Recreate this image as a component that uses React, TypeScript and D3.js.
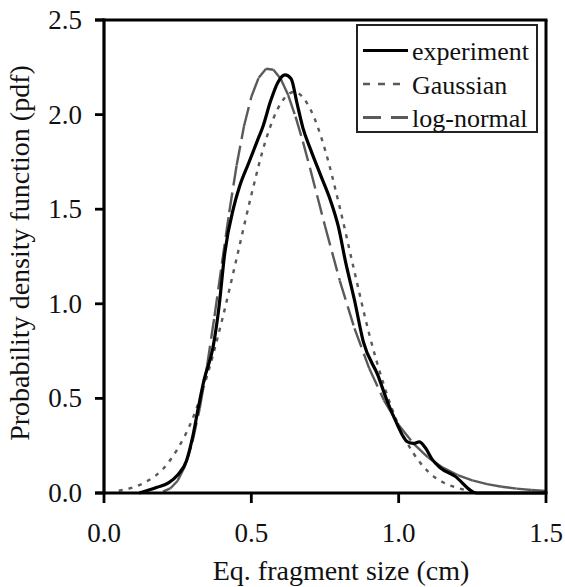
import React, { useEffect, useRef } from 'react';
import * as d3 from 'd3';

// values: [size (cm), pdf]
const EXPERIMENT: [number, number][] = [
  [0.12, 0], [0.18, 0.03], [0.22, 0.055], [0.25, 0.095], [0.28, 0.17], [0.30, 0.29],
  [0.32, 0.45], [0.34, 0.60], [0.37, 0.77], [0.39, 0.98], [0.41, 1.27], [0.44, 1.51],
  [0.46, 1.62], [0.49, 1.74], [0.52, 1.86], [0.54, 1.94], [0.565, 2.07], [0.59, 2.17],
  [0.614, 2.21], [0.635, 2.19], [0.655, 2.06], [0.675, 1.93], [0.70, 1.82], [0.735, 1.68],
  [0.77, 1.54], [0.795, 1.41], [0.82, 1.22], [0.85, 1.02], [0.88, 0.80], [0.93, 0.62],
  [0.96, 0.49], [0.99, 0.38], [1.03, 0.27], [1.05, 0.262], [1.07, 0.27], [1.09, 0.24],
  [1.115, 0.175], [1.14, 0.135], [1.19, 0.09], [1.265, 0], [1.5, 0],
];

const GAUSSIAN: [number, number][] = [
  [0.05, 0.012], [0.10, 0.03], [0.15, 0.066], [0.20, 0.127], [0.25, 0.234], [0.30, 0.39],
  [0.35, 0.62], [0.40, 0.91], [0.45, 1.24], [0.50, 1.575], [0.55, 1.87], [0.60, 2.06],
  [0.645, 2.12], [0.70, 2.03], [0.75, 1.815], [0.80, 1.51], [0.85, 1.17], [0.90, 0.84],
  [0.95, 0.57], [1.00, 0.356], [1.05, 0.21], [1.10, 0.113], [1.15, 0.057], [1.20, 0.027],
  [1.25, 0.008],
];

const LOGNORMAL: [number, number][] = [
  [0.20, 0.007], [0.225, 0.024], [0.25, 0.065], [0.275, 0.143], [0.30, 0.269], [0.325, 0.448],
  [0.35, 0.674], [0.375, 0.935], [0.40, 1.212], [0.425, 1.484], [0.45, 1.731], [0.475, 1.938],
  [0.50, 2.094], [0.525, 2.195], [0.55, 2.242], [0.575, 2.237], [0.60, 2.188], [0.625, 2.103],
  [0.65, 1.989], [0.675, 1.857], [0.70, 1.712], [0.75, 1.411], [0.80, 1.123], [0.85, 0.870],
  [0.90, 0.659], [0.95, 0.490], [1.00, 0.360], [1.05, 0.261], [1.10, 0.188], [1.15, 0.134],
  [1.20, 0.095], [1.25, 0.067], [1.30, 0.047], [1.35, 0.033], [1.40, 0.023], [1.45, 0.016],
  [1.50, 0.011],
];

const X_TICKS = [0, 0.5, 1.0, 1.5];
const Y_TICKS = [0, 0.5, 1.0, 1.5, 2.0, 2.5];
const LEGEND = ['experiment', 'Gaussian', 'log-normal'];

const GRAY = '#5a5a5a';
const FONT = '"Liberation Serif", "Times New Roman", serif';

export default function App() {
  const svgRef = useRef<SVGSVGElement>(null);

  useEffect(() => {
    const width = 565;
    const height = 587;
    const left = 104, right = 546, top = 20, bottom = 493;

    const svg = d3.select(svgRef.current);
    svg.selectAll('*').remove();
    svg.attr('width', width).attr('height', height).style('font-family', FONT);

    const x = d3.scaleLinear().domain([0, 1.5]).range([left, right]);
    const y = d3.scaleLinear().domain([0, 2.5]).range([bottom, top]);

    const line = d3.line<[number, number]>().x(d => x(d[0])).y(d => y(d[1]));

    // Gaussian, dotted
    svg.append('path').datum(GAUSSIAN)
      .attr('d', line.curve(d3.curveMonotoneX))
      .attr('fill', 'none').attr('stroke', GRAY).attr('stroke-width', 2.4)
      .attr('stroke-dasharray', '4,6');

    // log-normal, long dashes restarting on each segment (short segments look solid)
    for (let i = 0; i < LOGNORMAL.length - 1; i++) {
      svg.append('path').datum([LOGNORMAL[i], LOGNORMAL[i + 1]])
        .attr('d', line.curve(d3.curveLinear))
        .attr('fill', 'none').attr('stroke', GRAY).attr('stroke-width', 2.4)
        .attr('stroke-dasharray', '20,7');
    }

    // experiment, solid black
    svg.append('path').datum(EXPERIMENT)
      .attr('d', line.curve(d3.curveMonotoneX))
      .attr('fill', 'none').attr('stroke', '#000').attr('stroke-width', 3.2)
      .attr('stroke-linejoin', 'round');

    // frame
    svg.append('line').attr('x1', left - 9).attr('x2', right + 1.5).attr('y1', top).attr('y2', top)
      .attr('stroke', '#000').attr('stroke-width', 2.8);
    svg.append('line').attr('x1', right).attr('x2', right).attr('y1', top).attr('y2', bottom)
      .attr('stroke', '#000').attr('stroke-width', 3);
    svg.append('line').attr('x1', left).attr('x2', left).attr('y1', top - 1.4).attr('y2', bottom + 1.5)
      .attr('stroke', '#000').attr('stroke-width', 3.2);
    svg.append('line').attr('x1', left - 9).attr('x2', right + 1.5).attr('y1', bottom).attr('y2', bottom)
      .attr('stroke', '#000').attr('stroke-width', 3.2);

    // y ticks + labels
    Y_TICKS.forEach(t => {
      svg.append('line').attr('x1', left - 9).attr('x2', left).attr('y1', y(t)).attr('y2', y(t))
        .attr('stroke', '#000').attr('stroke-width', 2.8);
      svg.append('text').attr('x', 82).attr('y', y(t) + 9).attr('text-anchor', 'end')
        .style('font-size', '27px').style('fill', '#111').text(t.toFixed(1));
    });

    // x ticks + labels
    X_TICKS.forEach(t => {
      svg.append('line').attr('x1', x(t)).attr('x2', x(t)).attr('y1', bottom).attr('y2', bottom + 10)
        .attr('stroke', '#000').attr('stroke-width', 2.8);
      svg.append('text').attr('x', x(t)).attr('y', 542).attr('text-anchor', 'middle')
        .style('font-size', '27px').style('fill', '#111').text(t.toFixed(1));
    });

    // axis titles
    svg.append('text').attr('x', 341).attr('y', 580).attr('text-anchor', 'middle')
      .style('font-size', '28px').style('fill', '#111').text('Eq. fragment size (cm)');
    svg.append('text').attr('transform', 'translate(28.5,253) rotate(-90)').attr('text-anchor', 'middle')
      .style('font-size', '28px').style('fill', '#111').text('Probability density function (pdf)');

    // legend
    svg.append('rect').attr('x', 357).attr('y', 25).attr('width', 180).attr('height', 107)
      .attr('fill', '#fff').attr('stroke', '#222').attr('stroke-width', 2);
    const styles = [
      { stroke: '#000', w: 3.2, dash: null },
      { stroke: GRAY, w: 2.4, dash: '7,8' },
      { stroke: GRAY, w: 2.8, dash: '18,10' },
    ];
    LEGEND.forEach((name, i) => {
      const base = 60 + i * 33.5;
      const s = styles[i];
      svg.append('line').attr('x1', 363).attr('x2', 408).attr('y1', base - 9.5).attr('y2', base - 9.5)
        .attr('stroke', s.stroke).attr('stroke-width', s.w)
        .attr('stroke-dasharray', s.dash);
      svg.append('text').attr('x', 412).attr('y', base)
        .style('font-size', '26px').style('fill', '#111').text(name);
    });
  }, []);

  return (
    <div style={{ position: 'absolute', left: 0, top: 0, width: 565, height: 587, background: 'white' }}>
      <svg ref={svgRef}></svg>
    </div>
  );
}
